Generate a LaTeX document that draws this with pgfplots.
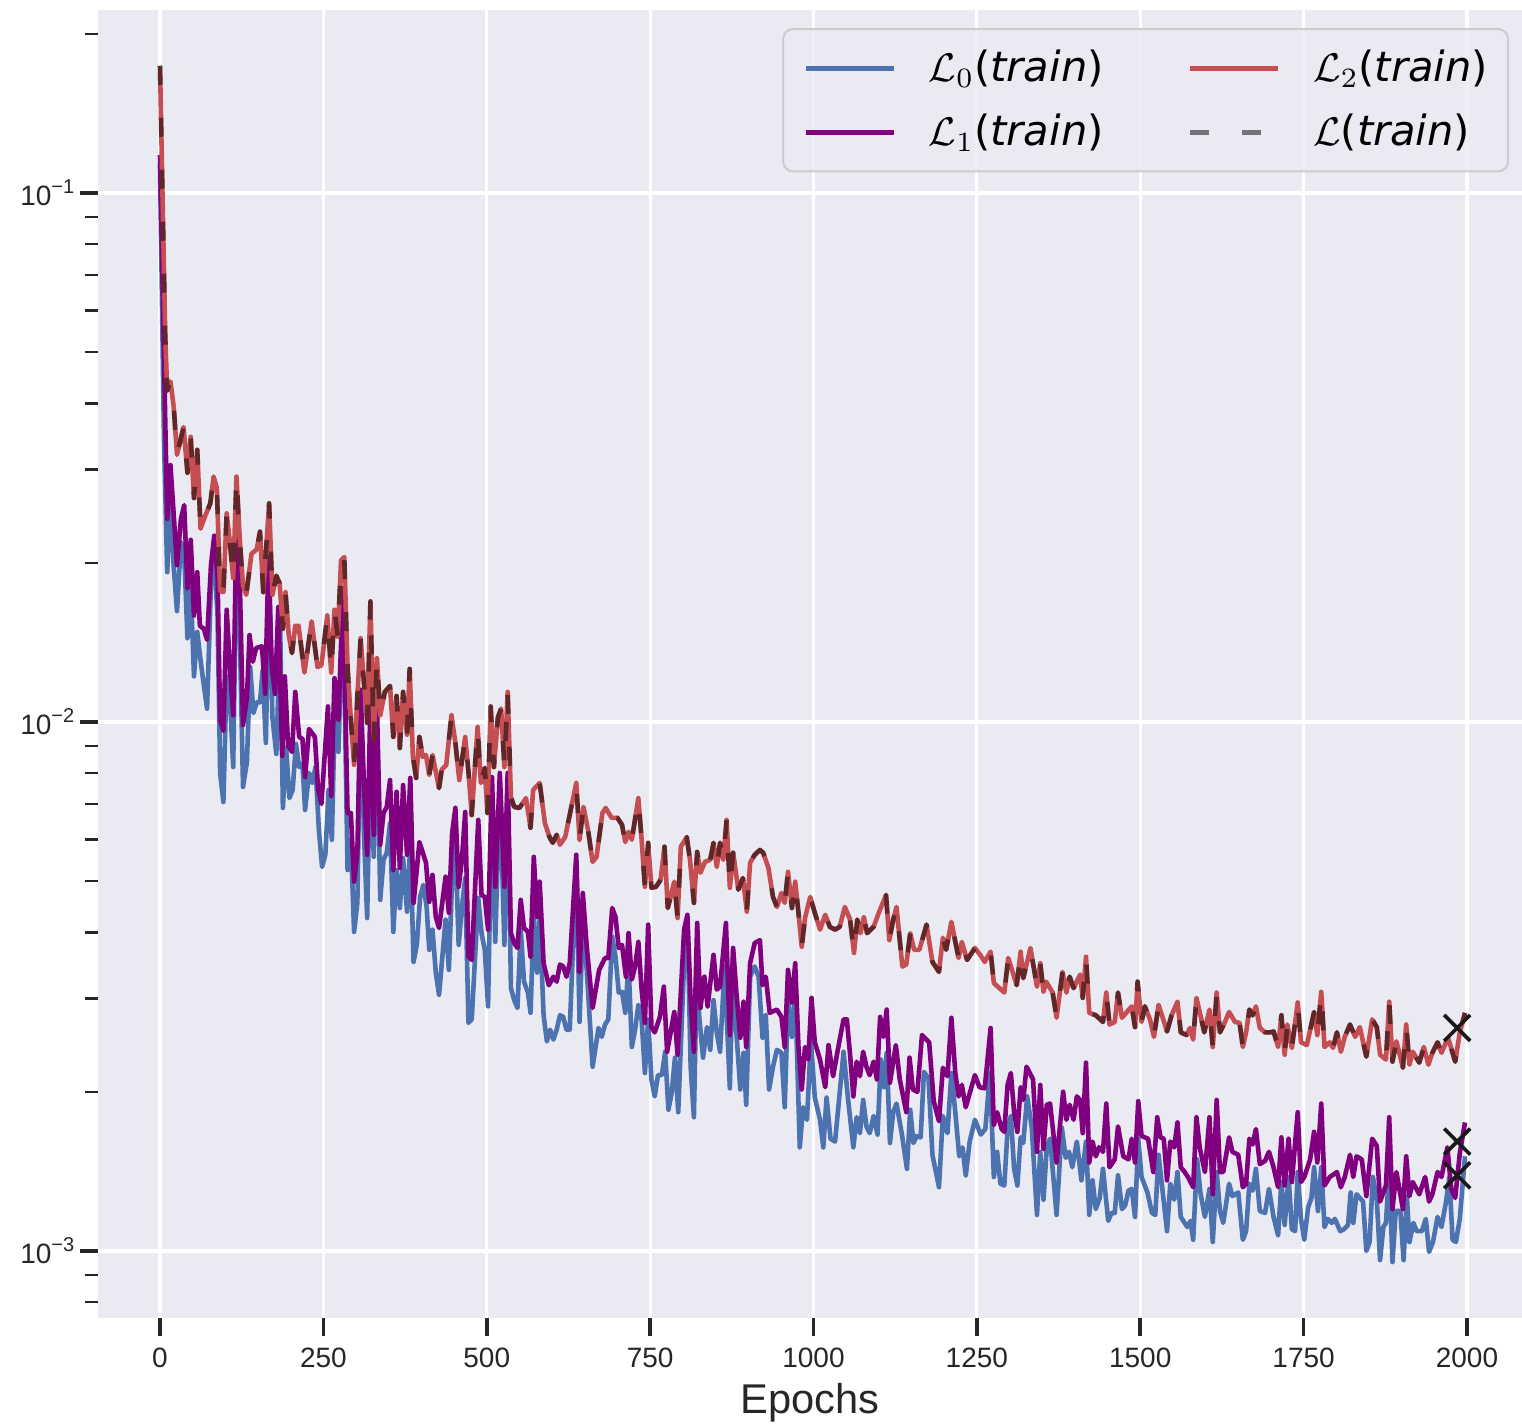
\documentclass[border=0pt]{standalone}
\usepackage{fontspec}
\setmainfont{Liberation Sans}
\newfontfamily\dejavu{DejaVu Sans}
\usepackage{pgfplots}
\usepackage{pgfplotstable}
\pgfplotsset{compat=1.18}

\definecolor{bgc}{HTML}{EAEAF2}
\definecolor{tickc}{HTML}{262626}
\definecolor{c0}{HTML}{4C72B0}
\definecolor{c1}{HTML}{800080}
\definecolor{c2}{HTML}{C44E52}
\definecolor{legbd}{HTML}{CCCCCC}

\tikzset{
  l0/.style={c0, line width=1.15pt, line join=round},
  l1/.style={c1, line width=1.15pt, line join=round},
  l2/.style={c2, line width=1.15pt, line join=round},
  ltot/.style={black, draw opacity=0.5, line width=1.15pt, line join=round, dash pattern=on 4.75pt off 8.25pt},
}

% L2 (train), also used for the total loss L (train)
\pgfplotstableread{
e v
0 0.174
8 0.0537
11 0.0423
16 0.0440
21 0.0394
26 0.0320
36 0.0361
42 0.0296
47 0.0346
52 0.0265
57 0.0327
62 0.0232
69 0.0245
77 0.0259
82 0.0291
87 0.0277
92 0.0177
97 0.0176
102 0.0248
107 0.0218
112 0.0187
117 0.0291
122 0.0222
127 0.0181
132 0.0174
140 0.0208
148 0.0212
153 0.0229
158 0.0176
167 0.0259
172 0.0174
178 0.0189
183 0.0183
188 0.0150
192 0.0176
197 0.0146
202 0.0135
207 0.0152
212 0.0152
221 0.0124
232 0.0155
241 0.0127
247 0.0128
256 0.0159
262 0.0124
267 0.0163
272 0.0145
277 0.0202
282 0.0205
287 0.0127
292 0.0101
297 0.00830
302 0.0112
307 0.0144
312 0.0119
317 0.00996
322 0.0169
327 0.00925
332 0.0132
337 0.0103
344 0.0114
352 0.0117
357 0.00937
362 0.0112
367 0.00893
372 0.0114
378 0.00946
382 0.0126
387 0.00859
392 0.00784
397 0.00937
402 0.00859
407 0.00866
412 0.00794
417 0.00866
427 0.00750
431 0.00812
438 0.00829
446 0.0103
452 0.00913
458 0.00777
467 0.00937
472 0.00805
477 0.00667
486 0.00979
491 0.00767
497 0.00819
501 0.00673
506 0.0107
511 0.00822
517 0.0102
522 0.0106
527 0.00822
532 0.0114
537 0.00722
542 0.00691
550 0.00688
560 0.00718
567 0.00631
571 0.00744
581 0.00767
589 0.00644
596 0.00606
601 0.00591
607 0.00612
612 0.00586
620 0.00606
637 0.00767
642 0.00599
648 0.00691
655 0.00625
662 0.00544
668 0.00556
677 0.00673
682 0.00688
691 0.00659
700 0.00659
707 0.00639
712 0.00593
717 0.00620
722 0.00599
732 0.00718
737 0.00599
742 0.00488
747 0.00591
752 0.00486
759 0.00488
766 0.00503
772 0.00581
777 0.00445
787 0.00499
792 0.00426
797 0.00581
806 0.00606
811 0.00549
817 0.00455
822 0.00568
827 0.00519
834 0.00544
842 0.00549
847 0.00591
852 0.00532
857 0.00591
862 0.00549
867 0.00653
872 0.00486
877 0.00566
885 0.00482
892 0.00507
898 0.00438
903 0.00542
910 0.00561
918 0.00573
923 0.00566
931 0.00530
938 0.00467
944 0.00447
951 0.00475
956 0.00455
961 0.00521
967 0.00445
972 0.00499
977 0.00436
982 0.00376
987 0.00426
995 0.00467
1002 0.00436
1010 0.00405
1018 0.00432
1025 0.00410
1033 0.00405
1040 0.00410
1048 0.00447
1056 0.00423
1062 0.00366
1067 0.00423
1072 0.00399
1077 0.00428
1082 0.00399
1092 0.00410
1100 0.00436
1111 0.00471
1116 0.00387
1122 0.00423
1127 0.00447
1136 0.00345
1142 0.00348
1148 0.00399
1154 0.00371
1162 0.00371
1173 0.00414
1182 0.00352
1192 0.00337
1198 0.00391
1203 0.00371
1211 0.00419
1222 0.00358
1227 0.00384
1235 0.00355
1247 0.00374
1255 0.00363
1262 0.00352
1271 0.00368
1276 0.00321
1292 0.00308
1298 0.00358
1311 0.00318
1317 0.00368
1321 0.00328
1332 0.00374
1342 0.00316
1347 0.00350
1352 0.00309
1356 0.00323
1366 0.00308
1372 0.00276
1381 0.00337
1387 0.00308
1392 0.00330
1398 0.00314
1408 0.00333
1412 0.00301
1417 0.00360
1422 0.00282
1432 0.00279
1443 0.00271
1448 0.00308
1453 0.00268
1461 0.00271
1466 0.00308
1472 0.00276
1487 0.00290
1492 0.00265
1496 0.00323
1502 0.00271
1507 0.00290
1515 0.00274
1521 0.00254
1528 0.00292
1534 0.00277
1541 0.00260
1548 0.00279
1557 0.00296
1562 0.00259
1571 0.00256
1576 0.00264
1581 0.00251
1586 0.00301
1591 0.00283
1598 0.00259
1606 0.00286
1611 0.00243
1617 0.00308
1622 0.00259
1628 0.00268
1636 0.00283
1645 0.00271
1652 0.00270
1657 0.00243
1662 0.00259
1667 0.00286
1672 0.00279
1677 0.00290
1683 0.00264
1691 0.00259
1699 0.00259
1704 0.00260
1711 0.00243
1716 0.00279
1721 0.00235
1725 0.00268
1732 0.00242
1741 0.00295
1746 0.00248
1755 0.00245
1766 0.00283
1771 0.00256
1777 0.00309
1782 0.00243
1790 0.00248
1795 0.00242
1801 0.00259
1807 0.00238
1813 0.00254
1821 0.00268
1829 0.00254
1836 0.00265
1846 0.00233
1855 0.00274
1862 0.00265
1867 0.00235
1876 0.00230
1881 0.00296
1886 0.00228
1892 0.00249
1902 0.00222
1907 0.00268
1912 0.00225
1917 0.00238
1927 0.00227
1934 0.00243
1941 0.00225
1947 0.00237
1955 0.00248
1961 0.00237
1971 0.00253
1982 0.00228
1989 0.00259
1997 0.00282
}\tred

% L1 (train)
\pgfplotstableread{
e v
0 0.118
11 0.0242
16 0.0306
21 0.0246
26 0.0198
32 0.0242
37 0.0257
42 0.0179
47 0.0221
52 0.0159
57 0.0192
61 0.0152
67 0.0150
72 0.0143
78 0.0198
83 0.0225
88 0.0189
92 0.0101
97 0.00962
102 0.0163
107 0.0127
112 0.0103
117 0.0242
122 0.0187
127 0.00987
133 0.0111
137 0.0146
142 0.0130
147 0.0138
156 0.0139
161 0.0113
166 0.0205
171 0.0127
176 0.0113
181 0.0165
187 0.00863
191 0.0122
196 0.00901
202 0.00878
207 0.0114
213 0.00937
218 0.00929
222 0.00787
228 0.00970
237 0.00937
242 0.00744
247 0.00700
257 0.0107
262 0.00725
267 0.0121
273 0.0101
280 0.0179
287 0.00673
292 0.00673
297 0.00499
302 0.00566
307 0.0115
312 0.00767
317 0.00561
322 0.0109
327 0.00612
332 0.0106
337 0.00586
342 0.00673
347 0.00691
352 0.00777
357 0.00525
362 0.00738
367 0.00530
372 0.00760
378 0.00561
383 0.00784
388 0.00455
397 0.00593
407 0.00542
412 0.00457
417 0.00514
422 0.00428
427 0.00408
437 0.00510
442 0.00436
447 0.00617
452 0.00688
457 0.00488
462 0.00549
467 0.00676
472 0.00360
477 0.00355
487 0.00653
492 0.00471
497 0.00467
502 0.00405
508 0.00787
513 0.00488
520 0.00801
527 0.00488
532 0.00801
537 0.00399
542 0.00382
547 0.00374
552 0.00461
557 0.00408
563 0.00401
567 0.00360
572 0.00556
577 0.00428
581 0.00499
587 0.00350
595 0.00318
602 0.00330
607 0.00323
612 0.00348
617 0.00345
622 0.00330
627 0.00350
637 0.00561
642 0.00337
647 0.00475
653 0.00376
662 0.00288
672 0.00340
681 0.00358
686 0.00358
692 0.00445
697 0.00428
702 0.00374
707 0.00379
713 0.00330
717 0.00399
722 0.00326
727 0.00345
732 0.00384
737 0.00312
742 0.00270
747 0.00414
752 0.00265
757 0.00259
765 0.00277
771 0.00316
776 0.00238
787 0.00283
792 0.00235
802 0.00405
807 0.00432
812 0.00298
817 0.00238
822 0.00417
827 0.00288
833 0.00330
838 0.00290
847 0.00363
852 0.00312
857 0.00316
866 0.00417
872 0.00256
877 0.00374
882 0.00308
888 0.00253
893 0.00296
897 0.00243
903 0.00350
910 0.00382
918 0.00387
922 0.00318
927 0.00330
933 0.00282
944 0.00286
951 0.00277
956 0.00243
961 0.00340
967 0.00295
972 0.00350
977 0.00243
982 0.00202
987 0.00243
992 0.00230
997 0.00301
1002 0.00248
1010 0.00230
1018 0.00204
1023 0.00245
1030 0.00214
1038 0.00243
1046 0.00274
1051 0.00274
1056 0.00235
1061 0.00196
1066 0.00228
1071 0.00214
1076 0.00238
1081 0.00223
1086 0.00215
1092 0.00228
1097 0.00211
1102 0.00277
1107 0.00254
1112 0.00286
1117 0.00208
1126 0.00245
1132 0.00211
1142 0.00183
1147 0.00232
1152 0.00202
1159 0.00200
1166 0.00256
1177 0.00248
1184 0.00192
1192 0.00176
1198 0.00222
1205 0.00214
1211 0.00276
1217 0.00217
1222 0.00196
1227 0.00206
1233 0.00187
1247 0.00215
1254 0.00204
1262 0.00203
1271 0.00264
1276 0.00173
1281 0.00183
1288 0.00170
1292 0.00168
1297 0.00206
1302 0.00217
1307 0.00183
1312 0.00168
1317 0.00204
1321 0.00193
1326 0.00223
1336 0.00211
1342 0.00154
1347 0.00206
1352 0.00156
1357 0.00189
1362 0.00190
1372 0.00147
1382 0.00200
1387 0.00177
1392 0.00189
1398 0.00177
1403 0.00196
1408 0.00193
1412 0.00167
1417 0.00227
1422 0.00147
1427 0.00161
1432 0.00151
1437 0.00157
1443 0.00154
1448 0.00190
1453 0.00144
1461 0.00149
1466 0.00172
1474 0.00151
1482 0.00149
1487 0.00163
1492 0.00147
1497 0.00192
1502 0.00165
1512 0.00163
1520 0.00141
1526 0.00179
1531 0.00164
1536 0.00163
1541 0.00136
1546 0.00161
1552 0.00157
1557 0.00175
1562 0.00144
1568 0.00141
1573 0.00138
1581 0.00132
1586 0.00179
1591 0.00157
1599 0.00141
1606 0.00179
1611 0.00128
1617 0.00193
1622 0.00141
1627 0.00141
1636 0.00164
1641 0.00154
1650 0.00152
1657 0.00132
1662 0.00134
1667 0.00163
1672 0.00159
1677 0.00170
1683 0.00146
1691 0.00148
1697 0.00154
1704 0.00144
1711 0.00132
1716 0.00164
1721 0.00133
1727 0.00163
1732 0.00135
1741 0.00183
1746 0.00135
1751 0.00138
1760 0.00149
1766 0.00168
1771 0.00147
1777 0.00190
1782 0.00133
1790 0.00138
1801 0.00141
1807 0.00132
1813 0.00138
1821 0.00152
1826 0.00138
1831 0.00151
1839 0.00149
1846 0.00127
1855 0.00163
1862 0.00158
1867 0.00124
1876 0.00133
1881 0.00179
1886 0.00120
1892 0.00141
1902 0.00120
1907 0.00151
1912 0.00127
1917 0.00135
1927 0.00128
1936 0.00138
1942 0.00124
1947 0.00128
1955 0.00141
1961 0.00138
1970 0.00157
1976 0.00131
1982 0.00126
1989 0.00153
1997 0.00175
}\tpurple

% L0 (train)
\pgfplotstableread{
e v
0 0.113
6 0.0345
11 0.0192
16 0.0268
21 0.0196
26 0.0162
32 0.0219
37 0.0209
42 0.0144
47 0.0179
52 0.0122
57 0.0148
62 0.0131
66 0.0120
72 0.0106
78 0.0183
83 0.0202
88 0.0160
92 0.00801
97 0.00706
102 0.0122
107 0.0111
112 0.00822
117 0.0213
122 0.0150
127 0.00754
133 0.00840
138 0.0127
143 0.0104
148 0.0109
153 0.0109
157 0.0125
162 0.00913
167 0.0196
172 0.0102
178 0.00870
184 0.0150
188 0.00688
193 0.00893
198 0.00718
203 0.00744
208 0.00909
213 0.00822
218 0.00833
222 0.00682
228 0.00801
233 0.00767
238 0.00822
243 0.00628
248 0.00532
253 0.00561
258 0.00744
263 0.00599
268 0.0113
273 0.00878
280 0.0175
287 0.00525
292 0.00599
297 0.00401
302 0.00455
307 0.0115
312 0.00617
317 0.00426
322 0.00925
327 0.00556
332 0.0104
337 0.00461
342 0.00549
347 0.00566
352 0.00644
357 0.00401
362 0.00525
367 0.00445
372 0.00553
378 0.00438
383 0.00591
388 0.00352
393 0.00379
398 0.00467
403 0.00492
408 0.00447
412 0.00371
417 0.00405
422 0.00336
427 0.00305
437 0.00423
442 0.00340
447 0.00503
452 0.00599
457 0.00379
462 0.00447
467 0.00507
472 0.00270
477 0.00274
487 0.00465
492 0.00399
497 0.00371
502 0.00290
508 0.00728
513 0.00384
520 0.00767
527 0.00379
532 0.00787
537 0.00314
542 0.00298
547 0.00288
552 0.00405
557 0.00323
563 0.00308
567 0.00282
572 0.00432
577 0.00336
581 0.00426
587 0.00279
592 0.00249
597 0.00262
602 0.00251
607 0.00262
612 0.00279
617 0.00277
622 0.00262
627 0.00262
637 0.00544
642 0.00271
647 0.00417
653 0.00340
662 0.00223
671 0.00264
676 0.00254
681 0.00268
686 0.00274
692 0.00393
697 0.00360
702 0.00308
707 0.00309
712 0.00282
717 0.00350
722 0.00243
727 0.00262
732 0.00292
737 0.00274
742 0.00217
747 0.00274
752 0.00211
757 0.00196
762 0.00215
768 0.00215
773 0.00238
778 0.00185
783 0.00199
788 0.00232
793 0.00183
802 0.00350
807 0.00428
812 0.00223
817 0.00179
821 0.00321
826 0.00270
831 0.00232
837 0.00265
842 0.00240
847 0.00298
852 0.00259
857 0.00238
864 0.00345
872 0.00203
877 0.00366
882 0.00259
888 0.00202
893 0.00237
897 0.00189
903 0.00330
910 0.00345
916 0.00330
922 0.00253
927 0.00279
932 0.00202
938 0.00223
944 0.00240
951 0.00237
956 0.00187
961 0.00298
967 0.00254
972 0.00312
979 0.00157
984 0.00187
990 0.00177
996 0.00251
1002 0.00195
1010 0.00177
1015 0.00157
1020 0.00195
1026 0.00163
1033 0.00161
1038 0.00187
1046 0.00238
1053 0.00193
1061 0.00157
1066 0.00179
1071 0.00167
1076 0.00193
1081 0.00172
1086 0.00167
1092 0.00180
1098 0.00166
1103 0.00230
1108 0.00204
1112 0.00237
1117 0.00160
1122 0.00183
1127 0.00190
1135 0.00167
1143 0.00143
1148 0.00185
1153 0.00160
1158 0.00165
1164 0.00164
1169 0.00218
1176 0.00212
1182 0.00152
1192 0.00132
1198 0.00180
1205 0.00167
1211 0.00217
1217 0.00183
1223 0.00151
1228 0.00157
1233 0.00139
1239 0.00161
1247 0.00177
1256 0.00166
1263 0.00170
1270 0.00217
1276 0.00138
1281 0.00154
1286 0.00134
1292 0.00133
1297 0.00170
1302 0.00180
1307 0.00143
1312 0.00133
1317 0.00164
1321 0.00160
1327 0.00196
1334 0.00171
1342 0.00117
1347 0.00154
1352 0.00125
1357 0.00157
1362 0.00163
1372 0.00117
1380 0.00171
1386 0.00150
1391 0.00154
1396 0.00144
1403 0.00161
1410 0.00136
1417 0.00161
1422 0.00117
1427 0.00136
1432 0.00120
1438 0.00126
1443 0.00143
1451 0.00114
1456 0.00118
1461 0.00118
1466 0.00139
1472 0.00120
1477 0.00122
1482 0.00130
1487 0.00131
1492 0.00116
1497 0.00163
1502 0.00138
1511 0.00129
1518 0.00118
1523 0.00117
1528 0.00152
1533 0.00134
1541 0.00109
1546 0.00134
1552 0.00125
1557 0.00141
1562 0.00116
1572 0.00111
1577 0.00114
1581 0.00105
1587 0.00149
1592 0.00129
1599 0.00116
1606 0.00131
1611 0.00104
1617 0.00141
1622 0.00119
1627 0.00113
1636 0.00134
1641 0.00127
1650 0.00129
1657 0.00105
1662 0.00109
1667 0.00134
1672 0.00130
1677 0.00143
1683 0.00119
1691 0.00118
1697 0.00131
1704 0.00116
1711 0.00107
1716 0.00135
1721 0.00112
1727 0.00138
1732 0.00110
1737 0.00109
1741 0.00141
1746 0.00115
1751 0.00105
1757 0.00121
1762 0.00126
1766 0.00144
1772 0.00119
1777 0.00144
1782 0.00111
1787 0.00115
1793 0.00113
1798 0.00115
1806 0.00109
1812 0.00110
1818 0.00112
1822 0.00129
1826 0.00113
1831 0.00128
1841 0.00124
1846 0.00100
1851 0.00104
1856 0.00138
1862 0.00125
1867 0.000961
1872 0.00111
1876 0.00113
1881 0.00143
1886 0.000953
1891 0.00119
1898 0.00119
1903 0.000961
1908 0.00127
1912 0.00104
1918 0.00113
1923 0.00109
1931 0.00109
1937 0.00115
1942 0.000996
1948 0.00104
1955 0.00116
1961 0.00111
1968 0.00124
1973 0.00138
1978 0.00105
1983 0.00104
1989 0.00115
1997 0.00151
}\tblue

\begin{document}
\begin{tikzpicture}
\begin{axis}[
    name=ax,
    scale only axis,
    width=356pt, height=327pt,
    ymode=log,
    xmin=-94.9, xmax=2084.2,
    ymin=0.000747, ymax=0.2218,
    axis background/.style={fill=bgc},
    axis line style={draw=none},
    grid=major,
    major grid style={white, line width=0.8pt},
    xtick={0,250,500,750,1000,1250,1500,1750,2000},
    xticklabels={0,250,500,750,1000,1250,1500,1750,2000},
    ytick={0.001,0.01,0.1},
    yticklabels={10\textsuperscript{−3},10\textsuperscript{−2},10\textsuperscript{−1}},
    minor ytick={0.0008,0.0009,0.002,0.003,0.004,0.005,0.006,0.007,0.008,0.009,0.02,0.03,0.04,0.05,0.06,0.07,0.08,0.09,0.2},
    tick align=outside,
    xtick pos=left, ytick pos=left,
    major tick length=4.5pt, minor tick length=3.2pt,
    major tick style={line width=0.9pt, tickc},
    minor tick style={line width=0.6pt, tickc},
    tick label style={font=\fontsize{7.0}{8.4}\selectfont, text=tickc},
    yticklabel style={xshift=2.6pt},
    xticklabel style={yshift=0.6pt},
    xlabel={Epochs},
    xlabel style={font=\fontsize{10.4}{12}\selectfont, text=tickc, at={(axis description cs:0.5,0)}, anchor=base, yshift=-23.8pt},
    legend columns=2,
    legend cell align=left,
    legend image code/.code={\draw[#1] (0pt,0pt) -- (22pt,0pt);},
    legend style={at={(rel axis cs:0.9909,0.9862)}, anchor=north east,
        fill=bgc, fill opacity=0.8, text opacity=1, draw=legbd, draw opacity=1,
        line width=0.5pt, rounded corners=2.5pt,
        font=\dejavu\fontsize{10.4}{12}\selectfont,
        inner xsep=5pt, inner ysep=4.9pt,
        column sep=8.25pt, row sep=6.2pt,
        /tikz/every even column/.append style={column sep=21pt},
        nodes={inner sep=0pt, text height=8.2pt, text depth=1.6pt}},
]
\addplot[l0, forget plot] table[x=e, y=v] {\tblue};
\addplot[l1, forget plot] table[x=e, y=v] {\tpurple};
\addplot[l2, forget plot] table[x=e, y=v] {\tred};
\addplot[ltot, forget plot] table[x=e, y=v] {\tred};
\addplot[only marks, mark=x, mark size=4.6pt, mark options={line width=0.9pt, black!90}, forget plot]
    coordinates {(1985,0.00264) (1985,0.00161) (1985,0.00139)};

\addlegendimage{l0}\addlegendentry{$\mathcal{L}_0$(\textit{train})}
\addlegendimage{l2}\addlegendentry{$\mathcal{L}_2$(\textit{train})}
\addlegendimage{l1}\addlegendentry{$\mathcal{L}_1$(\textit{train})}
\addlegendimage{ltot}\addlegendentry{$\mathcal{L}$(\textit{train})}
\end{axis}
\pgfresetboundingbox
\path ([shift={(-24.5pt,-26.75pt)}]ax.south west) rectangle ([shift={(0pt,2.5pt)}]ax.north east);
\end{tikzpicture}
\end{document}
